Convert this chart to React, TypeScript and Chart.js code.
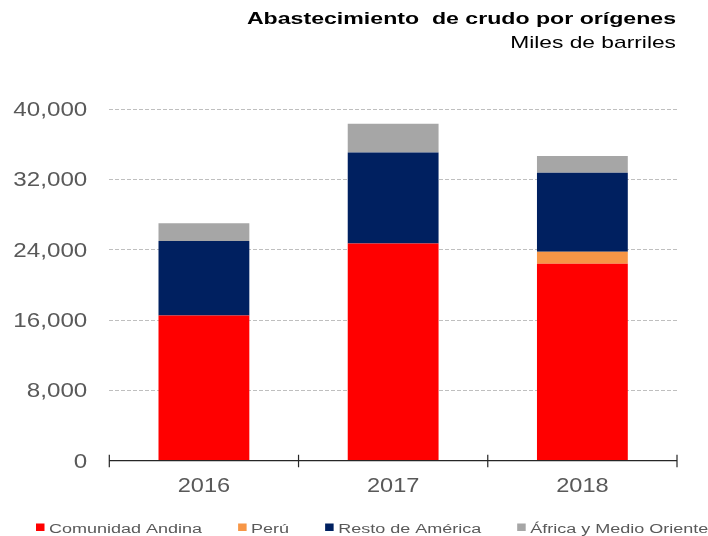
import React, { useEffect, useRef } from "react";
import { Chart, registerables } from "chart.js";

Chart.register(...registerables);

const categories = ["2016", "2017", "2018"];
const comunidadAndina = [16500, 24700, 22400];
const peru = [0, 0, 1370];
const restoAmerica = [8500, 10350, 8980];
const africaMedioOriente = [2000, 3260, 1900];
const yTicks = [0, 8000, 16000, 24000, 32000, 40000];

const titleText = "Abastecimiento  de crudo por orígenes";
const subtitleText = "Miles de barriles";

const FONT = "'Liberation Sans', Arial, sans-serif";

function drawText(
  ctx: CanvasRenderingContext2D,
  text: string,
  x: number,
  y: number,
  size: number,
  weight: string,
  color: string,
  align: "left" | "right" | "center",
  stretch: number
) {
  ctx.save();
  ctx.font = `${weight} ${size}px ${FONT}`;
  ctx.fillStyle = color;
  ctx.textBaseline = "alphabetic";
  ctx.textAlign = "left";
  const w = ctx.measureText(text).width * stretch;
  const lx = align === "right" ? x - w : align === "center" ? x - w / 2 : x;
  ctx.translate(lx, y);
  ctx.scale(stretch, 1);
  ctx.fillText(text, 0, 0);
  ctx.restore();
  return w;
}

const decorPlugin = {
  id: "decor",
  afterDatasetsDraw(chart: any) {
    const ctx = chart.ctx as CanvasRenderingContext2D;
    const { left, right, bottom } = chart.chartArea;
    const xs = chart.scales.x;
    const n = chart.data.labels.length;
    ctx.save();
    ctx.strokeStyle = "#262626";
    ctx.lineWidth = 1.2;
    ctx.beginPath();
    ctx.moveTo(left, bottom);
    ctx.lineTo(right, bottom);
    const bounds: number[] = [left];
    for (let i = 1; i < n; i++) {
      bounds.push((xs.getPixelForValue(i - 1) + xs.getPixelForValue(i)) / 2);
    }
    bounds.push(right);
    bounds.forEach((bx) => {
      ctx.moveTo(bx, bottom - 6);
      ctx.lineTo(bx, bottom + 6.5);
    });
    ctx.stroke();
    ctx.restore();
  },
  afterDraw(chart: any) {
    const ctx = chart.ctx as CanvasRenderingContext2D;
    const { left } = chart.chartArea;
    const xs = chart.scales.x;
    const ys = chart.scales.y;
    // y tick labels
    ys.ticks.forEach((t: any) => {
      const y = ys.getPixelForValue(t.value);
      drawText(ctx, Number(t.value).toLocaleString("en-US"), left - 22, y + 7, 19.5, "normal", "#595959", "right", 1.24);
    });
    // x labels
    chart.data.labels.forEach((lab: string, i: number) => {
      drawText(ctx, lab, xs.getPixelForValue(i), 491.5, 20.5, "normal", "#595959", "center", 1.15);
    });
    // legend
    let lx = 36;
    chart.data.datasets.forEach((ds: any) => {
      ctx.save();
      ctx.fillStyle = ds.backgroundColor;
      ctx.fillRect(lx, 523.5, 8.5, 7.5);
      ctx.restore();
      const w = drawText(ctx, ds.label, lx + 13, 532.5, 12.5, "normal", "#595959", "left", 1.44);
      lx = lx + 13 + w + 36;
    });
    // titles
    drawText(ctx, titleText, 676, 24, 17, "bold", "#000000", "right", 1.36);
    drawText(ctx, subtitleText, 676, 48, 17, "normal", "#000000", "right", 1.34);
  },
};

export default function App() {
  const ref = useRef<HTMLCanvasElement | null>(null);
  useEffect(() => {
    if (!ref.current) return;
    const chart = new Chart(ref.current, {
      type: "bar",
      data: {
        labels: categories,
        datasets: [
          { label: "Comunidad Andina", data: comunidadAndina, backgroundColor: "#FF0000" },
          { label: "Perú", data: peru, backgroundColor: "#F79646" },
          { label: "Resto de América", data: restoAmerica, backgroundColor: "#002060" },
          { label: "África y Medio Oriente", data: africaMedioOriente, backgroundColor: "#A6A6A6" },
        ],
      },
      options: {
        responsive: false,
        animation: false,
        devicePixelRatio: 1,
        layout: { padding: { left: 109.3, right: 31, top: 109, bottom: 75.3 } },
        datasets: { bar: { barPercentage: 0.48, categoryPercentage: 1, borderWidth: 0 } },
        plugins: {
          legend: { display: false },
          title: { display: false },
          tooltip: { enabled: false },
        },
        scales: {
          x: {
            stacked: true,
            ticks: { display: false },
            grid: { display: false, drawTicks: false },
            border: { display: false },
          },
          y: {
            stacked: true,
            min: 0,
            max: 40000,
            afterBuildTicks: (scale: any) => {
              scale.ticks = yTicks.map((v) => ({ value: v }));
            },
            ticks: { display: false },
            grid: {
              drawTicks: false,
              color: (c: any) => (c.tick && c.tick.value === 0 ? "rgba(0,0,0,0)" : "#BFBFBF"),
              lineWidth: 1,
            },
            border: { display: false, dash: [4, 2] },
          },
        },
      },
      plugins: [decorPlugin],
    });
    return () => chart.destroy();
  }, []);
  return (
    <div style={{ position: "absolute", left: 0, top: 0, width: 708, height: 536, background: "#fff" }}>
      <canvas ref={ref} width={708} height={536} style={{ display: "block" }} />
    </div>
  );
}
